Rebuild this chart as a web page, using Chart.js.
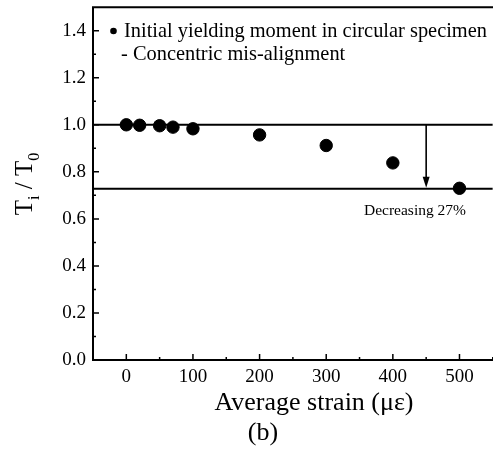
<!DOCTYPE html>
<html>
<head>
<meta charset="utf-8">
<script src="https://cdn.jsdelivr.net/npm/chart.js@4.4.1/dist/chart.umd.min.js"></script>
<style>
  html, body { margin: 0; padding: 0; background: #fff; overflow: hidden; }
  #wrap { width: 500px; height: 450px; }
</style>
</head>
<body>
<div id="wrap"><canvas id="c" width="500" height="450"></canvas></div>
<script>
// data
const strain = [0, 20, 50, 70, 100, 200, 300, 400, 500];
const ratio  = [1.0, 0.998, 0.996, 0.99, 0.983, 0.957, 0.912, 0.838, 0.73];

// reference lines + arrow
const refUpper = 1.0;
const refLower = 0.728;
const arrowX   = 450;
const xRange   = [-50, 550];
const yRange   = [0, 1.5];

const xLabels = [0, 100, 200, 300, 400, 500];
const yLabels = [0.0, 0.2, 0.4, 0.6, 0.8, 1.0, 1.2, 1.4];

const SERIF = '"Liberation Serif", "Times New Roman", serif';

(function () {
  const isLabelX = (v) => xLabels.some(l => Math.abs(l - v) < 1e-6);
  const isLabelY = (v) => yLabels.some(l => Math.abs(l - v) < 1e-6);

  // ticks inside, frame, arrowhead, texts
  const decor = {
    id: "decor",
    afterDraw(chart) {
      const { ctx, chartArea: a, scales: { x, y } } = chart;
      ctx.save();
      ctx.strokeStyle = "#000";
      ctx.fillStyle = "#000";

      // frame: left, bottom, top
      ctx.lineWidth = 2;
      ctx.beginPath();
      ctx.moveTo(a.left, a.top); ctx.lineTo(a.left, a.bottom);
      ctx.moveTo(a.left - 1, a.bottom); ctx.lineTo(a.right + 4, a.bottom);
      ctx.moveTo(a.left - 1, a.top); ctx.lineTo(a.right + 4, a.top);
      ctx.stroke();

      // inward ticks
      ctx.lineWidth = 1.5;
      ctx.beginPath();
      x.ticks.forEach(t => {
        const px = x.getPixelForValue(t.value);
        if (px <= a.left + 1) return;
        const len = isLabelX(t.value) ? 6 : 3;
        ctx.moveTo(px, a.bottom); ctx.lineTo(px, a.bottom - len);
      });
      y.ticks.forEach(t => {
        const py = y.getPixelForValue(t.value);
        if (py >= a.bottom - 1 || py <= a.top + 1) return;
        const len = isLabelY(Math.round(t.value * 10) / 10) ? 6 : 3;
        ctx.moveTo(a.left, py); ctx.lineTo(a.left + len, py);
      });
      ctx.stroke();

      // arrowhead
      const ax = x.getPixelForValue(arrowX);
      const tip = y.getPixelForValue(refLower) - 1;
      ctx.beginPath();
      ctx.moveTo(ax, tip);
      ctx.lineTo(ax - 3.5, tip - 11);
      ctx.lineTo(ax + 3.5, tip - 11);
      ctx.closePath();
      ctx.fill();

      // legend text
      ctx.font = "20.4px " + SERIF;
      ctx.textBaseline = "alphabetic";
      ctx.textAlign = "left";
      ctx.beginPath();
      ctx.arc(113.5, 31, 3.3, 0, Math.PI * 2);
      ctx.fill();
      ctx.fillText("Initial yielding moment in circular specimen", 124, 37);
      ctx.fillText("- Concentric mis-alignment", 121, 60);

      // annotation
      ctx.font = "15.5px " + SERIF;
      ctx.textAlign = "center";
      ctx.fillText("Decreasing 27%", 415, 215);

      // x title + panel letter
      ctx.font = "26px " + SERIF;
      ctx.fillText("Average strain (\u03bc\u03b5)", 314, 410);
      ctx.fillText("(b)", 263, 440);

      // y title, rotated, with subscripts
      ctx.translate(32, 184);
      ctx.rotate(-Math.PI / 2);
      const big = "25px " + SERIF, small = "16px " + SERIF;
      const parts = [
        ["T", big, 0], ["i", small, 7], [" / ", big, 0], ["T", big, 0], ["0", small, 7]
      ];
      let w = 0;
      parts.forEach(p => { ctx.font = p[1]; w += ctx.measureText(p[0]).width; });
      let cx = -w / 2;
      ctx.textAlign = "left";
      parts.forEach(p => {
        ctx.font = p[1];
        ctx.fillText(p[0], cx, p[2]);
        cx += ctx.measureText(p[0]).width;
      });
      ctx.restore();
    }
  };

  const lineDs = (pts, extra) => Object.assign({
    type: "line",
    data: pts,
    borderColor: "#000",
    borderWidth: 2,
    pointRadius: 0,
    fill: false,
    showLine: true
  }, extra || {});

  new Chart(document.getElementById("c"), {
    type: "scatter",
    data: {
      datasets: [
        {
          label: "Initial yielding moment in circular specimen",
          data: strain.map((s, i) => ({ x: s, y: ratio[i] })),
          backgroundColor: "#000",
          borderColor: "#000",
          pointRadius: 6.2,
          pointHoverRadius: 6.2
        },
        lineDs([{ x: xRange[0], y: refUpper }, { x: xRange[1], y: refUpper }]),
        lineDs([{ x: xRange[0], y: refLower }, { x: xRange[1], y: refLower }], { borderWidth: 2.2 }),
        lineDs([{ x: arrowX, y: refUpper }, { x: arrowX, y: refLower + 0.03 }], { borderWidth: 1.6 })
      ]
    },
    options: {
      responsive: false,
      animation: false,
      events: [],
      layout: { padding: { top: 7, right: 4, left: 0, bottom: 0 } },
      plugins: { legend: { display: false }, tooltip: { enabled: false } },
      scales: {
        x: {
          type: "linear",
          min: xRange[0], max: xRange[1],
          afterFit: (s) => { s.height = 90; s.paddingLeft = 0; s.paddingRight = 0; },
          grid: { display: false, drawTicks: false },
          border: { display: false },
          ticks: {
            stepSize: 50,
            padding: 6,
            color: "#000",
            font: { family: SERIF, size: 19 },
            autoSkip: false,
            maxRotation: 0,
            callback: (v) => isLabelX(v) ? String(v) : ""
          }
        },
        y: {
          type: "linear",
          min: yRange[0], max: yRange[1],
          afterFit: (s) => { s.width = 93; s.paddingTop = 0; s.paddingBottom = 0; },
          grid: { display: false, drawTicks: false },
          border: { display: false },
          ticks: {
            stepSize: 0.1,
            padding: 7,
            color: "#000",
            font: { family: SERIF, size: 19 },
            autoSkip: false,
            callback: (v) => {
              const r = Math.round(v * 10) / 10;
              return isLabelY(r) ? r.toFixed(1) : "";
            }
          }
        }
      }
    },
    plugins: [decor]
  });
})();
</script>
</body>
</html>
